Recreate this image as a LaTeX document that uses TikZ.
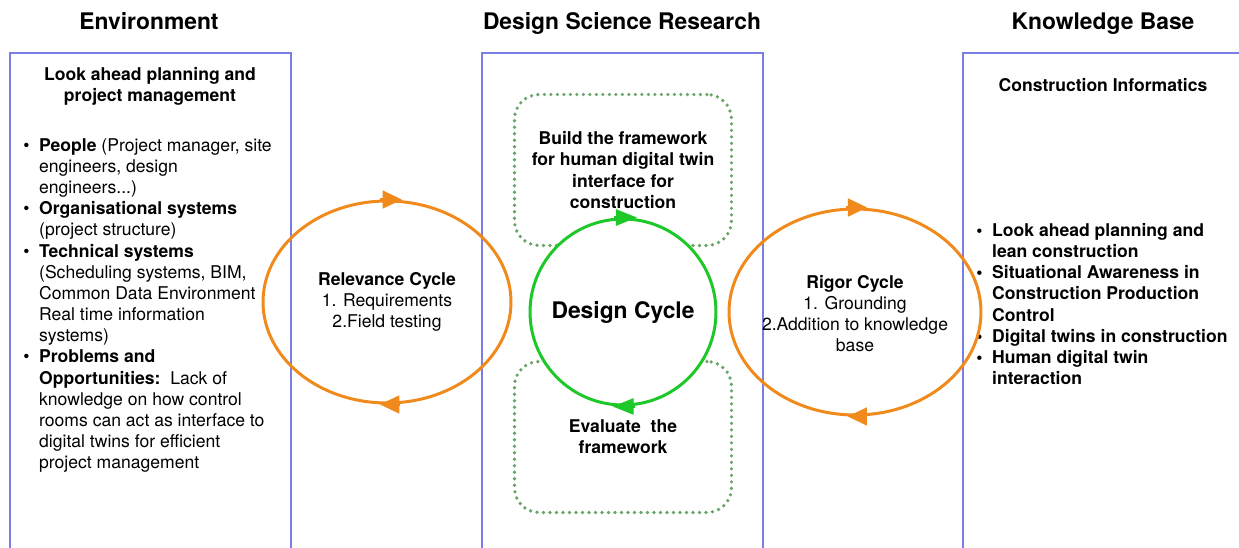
\documentclass[tikz,border=0pt]{standalone}
\usepackage{fontspec}
\setmainfont{TeX Gyre Heros}
\usetikzlibrary{shapes.geometric,arrows.meta,positioning}

\definecolor{cycorange}{RGB}{240,138,28}
\definecolor{cycgreen}{RGB}{30,200,40}
\definecolor{dotgreen}{RGB}{105,165,105}
\definecolor{panelblue}{RGB}{122,126,228}

\newcommand{\bul}{\makebox[9pt][l]{\textbullet}}
\newcommand{\ind}{\hspace*{9pt}}

\begin{document}
\begin{tikzpicture}[x=0.02cm,y=-0.02cm,
    panel/.style={draw=panelblue,line width=0.9pt},
    heading/.style={font=\fontsize{13}{15}\selectfont\bfseries,text height=9.5pt,text depth=2.5pt},
    body/.style={font=\fontsize{10}{12.05}\selectfont,inner sep=0pt},
    bodyb/.style={font=\fontsize{10}{12.05}\selectfont\bfseries,inner sep=0pt},
    outercyc/.style={ellipse,draw=cycorange,line width=1.7pt,inner sep=0pt},
    ortip/.style={draw=cycorange,line width=1.7pt,-{Triangle[length=11pt,width=10pt]}},
    grtip/.style={draw=cycgreen,line width=1.7pt,-{Triangle[length=12pt,width=9pt]}},
    dotbox/.style={draw=dotgreen,line width=2.1pt,line cap=round,dash pattern=on 0pt off 3.7pt,
        rounded corners=14pt,minimum width=4.34cm,minimum height=3.02cm,align=center,
        font=\fontsize{10}{12}\selectfont\bfseries}]
    \useasboundingbox (0,0) rectangle (1239,547);

    % panels
    \draw[panel] (10,560) -- (10,53) -- (291,53) -- (291,560);
    \draw[panel] (482,560) -- (482,53) -- (763,53) -- (763,560);
    \draw[panel] (963,560) -- (963,53) -- (1250,53);

    \node[heading] (env) at (149,23) {Environment};
    \node[heading] (dsr) at (622,23) {Design Science Research};
    \node[heading] (kb) at (1103,23) {Knowledge Base};

    % environment
    \node[bodyb,align=center] (envtop) at (150,86) {Look ahead planning and\\project management};
    \node[body,align=left,anchor=north west] (envlist) at (23,138) {%
        \bul\textbf{People} (Project manager, site\\
        \ind engineers, design\\
        \ind engineers...)\\
        \bul\textbf{Organisational systems}\\
        \ind (project structure)\\
        \bul\textbf{Technical systems}\\
        \ind (Scheduling systems, BIM,\\
        \ind Common Data Environment\\
        \ind Real time information\\
        \ind systems)\\
        \bul\textbf{Problems and}\\
        \ind\textbf{Opportunities:}\ \ Lack of\\
        \ind knowledge on how control\\
        \ind rooms can act as interface to\\
        \ind digital twins for efficient\\
        \ind project management};

    % knowledge base
    \node[bodyb] (kbtop) at (1103,85) {Construction Informatics};
    \node[bodyb,align=left,anchor=north west] (kblist) at (976,223) {%
        \bul Look ahead planning and\\
        \ind lean construction\\
        \bul Situational Awareness in\\
        \ind Construction Production\\
        \ind Control\\
        \bul Digital twins in construction\\
        \bul Human digital twin\\
        \ind interaction};

    % relevance and rigor cycles
    \node[outercyc,minimum width=4.96cm,minimum height=4.04cm] (rel) at (387,302) {};
    \node[body,align=center] (reltxt) at (rel) {\textbf{Relevance Cycle}\\1. Requirements\\2.Field testing};
    \draw[ortip] ([xshift=-4pt]rel.north) -- ([xshift=8.5pt]rel.north);
    \draw[ortip] ([xshift=7pt]rel.south) -- ([xshift=-4pt]rel.south);

    \node[outercyc,minimum width=5.04cm,minimum height=4.12cm] (rig) at (855,312) {};
    \node[body,align=center] (rigtxt) at ([yshift=-1pt]rig.center) {\textbf{Rigor Cycle}\\1. Grounding\\2.Addition to knowledge\\base};
    \draw[ortip] ([xshift=-5pt]rig.north) -- ([xshift=7pt]rig.north);
    \draw[ortip] ([xshift=7pt]rig.south) -- ([xshift=-4.2pt]rig.south);

    % design cycle
    \node[dotbox] (build) at (623,170) {Build the framework\\for human digital twin\\interface for\\construction};
    \node[dotbox] (eval) at (623,437) {Evaluate\ \ the\\framework};
    \node[circle,draw=cycgreen,fill=white,line width=1.7pt,minimum size=3.72cm,inner sep=0pt] (dc) at (623,312) {};
    \node[heading] (dctxt) at (dc) {Design Cycle};
    \draw[grtip] ([xshift=-5pt]dc.north) -- ([xshift=8pt]dc.north);
    \draw[grtip] ([xshift=7pt]dc.south) -- ([xshift=-6pt]dc.south);
\end{tikzpicture}
\end{document}
